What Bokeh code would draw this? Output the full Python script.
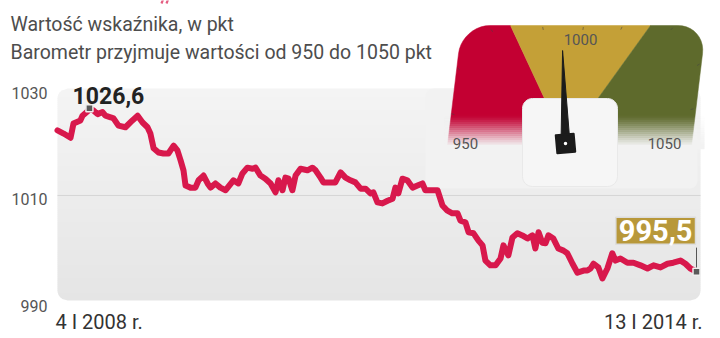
import numpy as np
import pandas as pd
from bokeh.plotting import figure
from bokeh.models import Range1d, Label, ColumnDataSource
from bokeh.core.properties import value
from bokeh.embed import file_html
from bokeh.resources import INLINE

# ---------------- data ----------------
dates = [
    "2008-01-04", "2008-01-25", "2008-02-18", "2008-02-28", "2008-03-23", "2008-03-30",
    "2008-04-16", "2008-04-23", "2008-05-07", "2008-05-21", "2008-06-07", "2008-06-17",
    "2008-07-05", "2008-07-15", "2008-08-01", "2008-08-25", "2008-09-18", "2008-10-06",
    "2008-10-23", "2008-11-09", "2008-11-19", "2008-11-30", "2008-12-17", "2009-01-03",
    "2009-01-20", "2009-02-07", "2009-02-20", "2009-03-03", "2009-03-13", "2009-03-20",
    "2009-04-06", "2009-04-23", "2009-05-04", "2009-05-21", "2009-06-04", "2009-06-14",
    "2009-07-01", "2009-07-18", "2009-08-05", "2009-08-12", "2009-09-01", "2009-09-18",
    "2009-10-02", "2009-10-19", "2009-11-06", "2009-11-16", "2009-12-03", "2009-12-20",
    "2010-01-07", "2010-01-24", "2010-02-03", "2010-02-17", "2010-02-27", "2010-03-10",
    "2010-03-23", "2010-04-03", "2010-04-20", "2010-05-14", "2010-05-31", "2010-06-11",
    "2010-06-28", "2010-07-08", "2010-08-01", "2010-08-18", "2010-09-05", "2010-09-22",
    "2010-10-09", "2010-10-26", "2010-11-13", "2010-11-30", "2010-12-17", "2010-12-27",
    "2011-01-10", "2011-01-27", "2011-02-14", "2011-03-03", "2011-03-13", "2011-03-23",
    "2011-04-06", "2011-04-23", "2011-05-11", "2011-05-28", "2011-06-14", "2011-06-24",
    "2011-07-12", "2011-08-05", "2011-08-22", "2011-09-08", "2011-09-25", "2011-10-13",
    "2011-10-23", "2011-11-09", "2011-11-20", "2011-12-07", "2011-12-24", "2012-01-07",
    "2012-01-17", "2012-02-03", "2012-02-21", "2012-03-09", "2012-03-19", "2012-04-05",
    "2012-04-19", "2012-05-06", "2012-05-23", "2012-06-10", "2012-06-27", "2012-07-07",
    "2012-07-18", "2012-07-31", "2012-08-11", "2012-08-21", "2012-09-07", "2012-09-24",
    "2012-10-12", "2012-10-25", "2012-11-12", "2012-11-29", "2012-12-20", "2013-01-02",
    "2013-01-13", "2013-01-23", "2013-02-09", "2013-02-23", "2013-03-12", "2013-03-29",
    "2013-04-09", "2013-04-26", "2013-05-20", "2013-06-10", "2013-07-04", "2013-07-28",
    "2013-08-18", "2013-09-11", "2013-10-05", "2013-10-25", "2013-11-19", "2013-12-06",
    "2013-12-23", "2014-01-13",
]
values = [
    1022.4, 1021.8, 1021.0, 1023.7, 1024.3, 1025.2,
    1026.0, 1026.6, 1026.2, 1025.5, 1025.9, 1025.2,
    1024.9, 1024.7, 1023.3, 1023.0, 1024.3, 1025.2,
    1023.9, 1023.0, 1021.8, 1019.0, 1018.2, 1018.0,
    1018.0, 1019.5, 1018.6, 1016.7, 1014.8, 1011.9,
    1011.5, 1011.5, 1012.9, 1013.8, 1012.3, 1011.5,
    1012.3, 1011.5, 1011.0, 1011.5, 1012.9, 1012.3,
    1014.2, 1015.3, 1015.1, 1015.3, 1013.8, 1013.2,
    1012.3, 1010.6, 1012.9, 1011.0, 1013.4, 1013.2,
    1011.0, 1013.8, 1015.1, 1014.8, 1015.3, 1014.8,
    1013.4, 1012.5, 1012.5, 1012.5, 1014.4, 1013.4,
    1012.9, 1012.5, 1011.3, 1011.3, 1010.4, 1010.6,
    1008.7, 1008.5, 1009.0, 1009.4, 1011.5, 1010.4,
    1013.2, 1012.9, 1011.5, 1011.9, 1012.3, 1011.0,
    1011.0, 1011.0, 1008.1, 1007.1, 1006.6, 1006.6,
    1005.2, 1004.9, 1003.0, 1002.8, 1001.4, 1000.5,
    997.6, 996.7, 996.7, 998.0, 1000.5, 998.6,
    1002.0, 1002.8, 1002.4, 1001.8, 1002.4, 999.9,
    1003.0, 1001.0, 1000.9, 1002.4, 1001.8, 999.9,
    999.5, 999.0, 997.0, 995.3, 995.7, 995.7,
    996.1, 997.0, 996.3, 994.2, 996.1, 999.0,
    997.6, 998.0, 997.2, 997.2, 996.7, 996.1,
    996.7, 996.3, 997.0, 997.2, 997.6, 997.0,
    996.1, 995.5,
]
y_ticks = [990, 1010, 1030]
x_labels = ["4 I 2008 r.", "13 I 2014 r."]
subtitle_lines = ["Wartość wskaźnika, w pkt",
                  "Barometr przyjmuje wartości od 950 do 1050 pkt"]
gauge_labels = ["950", "1000", "1050"]
gauge_min, gauge_mid, gauge_max = 950, 1000, 1050

# ---------------- style ----------------
FONT = "Roboto"
RED = "#d8184c"
GAUGE_RED = "#c30032"
GAUGE_GOLD = "#c4a037"
GAUGE_OLIVE = "#5e6a2c"
BOX_GOLD = "#b8983a"
PANEL = "#f2f2f2"
W, H = 720, 338

t = pd.to_datetime(dates)
ms = t.values.astype("datetime64[ms]").astype(np.int64).astype(float)
vals = np.array(values)

# frame geometry in pixels
X0_PX, X1_PX = 57, 696
YT_PX, YB_PX = 90, 300          # positions of 1030 and 990
mpp = (ms[-1] - ms[0]) / (X1_PX - X0_PX)
upp = (y_ticks[-1] - y_ticks[0]) / (YB_PX - YT_PX)

p = figure(width=W, height=H,
           x_range=Range1d(ms[0] - X0_PX * mpp, ms[0] + (W - X0_PX) * mpp),
           y_range=Range1d(y_ticks[0] - (H - YB_PX) * upp, y_ticks[-1] + YT_PX * upp),
           x_axis_type=None, y_axis_type=None, toolbar_location=None,
           output_backend="svg", min_border=0)
p.outline_line_color = None
p.background_fill_color = "white"
p.border_fill_color = "white"
p.extra_x_ranges = {"px": Range1d(0, W)}
p.extra_y_ranges = {"px": Range1d(0, H)}


def Y(y):
    return H - np.asarray(y, dtype=float)


def rrect(x0, x1, y0, y1, r, n=8):
    pts = []
    for cx, cy, a0 in [(x0 + r, y0 + r, 180), (x1 - r, y0 + r, 270),
                       (x1 - r, y1 - r, 0), (x0 + r, y1 - r, 90)]:
        for k in range(n + 1):
            a = np.radians(a0 + 90 * k / n)
            pts.append((cx + r * np.cos(a), cy + r * np.sin(a)))
    xs = [q[0] for q in pts]
    ys = list(Y([q[1] for q in pts]))
    return xs, ys


def pxpatch(xs, ys_down, **kw):
    p.patch(list(xs), list(Y(ys_down)), x_range_name="px", y_range_name="px", **kw)


# ---------------- gray plot area with vertical gradient ----------------
GX0, GX1, GY0, GY1, GR = 57, 700, 88, 300, 10


def inset(y):
    d = 0.0
    if y < GY0 + GR:
        d = GY0 + GR - y
    elif y > GY1 - GR:
        d = y - (GY1 - GR)
    d = min(max(d, 0.0), GR)
    return GR - np.sqrt(GR * GR - d * d)


edges = np.arange(GY0, GY1 + 0.01, 2.0)
bxs, bys, bcols = [], [], []
for ya, yb in zip(edges[:-1], edges[1:]):
    yb2 = min(yb + 0.8, GY1)
    ia, ib = inset(ya), inset(yb2)
    bxs.append([GX0 + ia, GX1 - ia, GX1 - ib, GX0 + ib])
    bys.append(list(Y([ya, ya, yb2, yb2])))
    frac = ((ya + yb) / 2 - GY0) / (GY1 - GY0)
    g = int(round(244 - 15 * frac))
    bcols.append("#%02x%02x%02x" % (g, g, g))
p.patches(bxs, bys, fill_color=bcols, line_color=None,
          x_range_name="px", y_range_name="px")

# grid line at the middle tick
p.segment(x0=[GX0] * (len(y_ticks) - 2), x1=[GX1] * (len(y_ticks) - 2),
          y0=y_ticks[1:-1], y1=y_ticks[1:-1], x_range_name="px",
          line_color="#d6d6d6", line_width=1)

# tail of the (cut-off) title's red quotation mark
p.segment(x0=[162.5, 167.5], y0=list(Y([-1, -1])), x1=[161, 166], y1=list(Y([3, 3])),
          x_range_name="px", y_range_name="px", line_color=RED, line_width=2.2,
          line_alpha=0.7)

# ---------------- gauge ----------------
xs, ys = rrect(425, 697, 88, 188, 8)
p.patch(xs, ys, fill_color=PANEL, line_color=None, x_range_name="px", y_range_name="px")

PIV = (565.0, 143.0)
SH = 0.12
U0, GTOP, GW, GH, GRAD = 461.4, 25.0, 244.0, 120.0, 28.0


def gpt(u, v):
    return (U0 + u - SH * v, GTOP + v)


def arc(cu, cv, a0, a1, n=10):
    out = []
    for k in range(n + 1):
        a = np.radians(a0 + (a1 - a0) * k / n)
        out.append(gpt(cu + GRAD * np.cos(a), cv + GRAD * np.sin(a)))
    return out


b1 = 510.0   # red/gold boundary on top edge
b2 = 650.0   # gold/olive boundary on top edge
red_pts = [(PIV[0], GTOP + GH), gpt(0, GH)] + arc(GRAD, GRAD, 180, 270) + [(b1, GTOP), PIV]
gold_pts = [PIV, (b1, GTOP), (b2, GTOP)]
olive_pts = [(b2, GTOP)] + arc(GW - GRAD, GRAD, 270, 360) + [gpt(GW, GH), (PIV[0], GTOP + GH), PIV]
for pts, col in [(red_pts, GAUGE_RED), (gold_pts, GAUGE_GOLD), (olive_pts, GAUGE_OLIVE)]:
    pxpatch([q[0] for q in pts], [q[1] for q in pts], fill_color=col, line_color=col, line_width=0.5)

# small scale ticks on the dial rim, pointing to the pivot
rim = [(490, 28), (542, 25.5), (583, 25.5), (622, 25.5), (673, 26.5),
       (456, 67), (450, 113), (700, 63), (694, 108)]
tx0, ty0, tx1, ty1 = [], [], [], []
for ex, ey in rim:
    dx, dy = PIV[0] - ex, PIV[1] - ey
    n = np.hypot(dx, dy)
    dx, dy = dx / n, dy / n
    tx0.append(ex + 1 * dx); ty0.append(ey + 1 * dy)
    tx1.append(ex + 4 * dx); ty1.append(ey + 4 * dy)
p.segment(x0=tx0, y0=list(Y(ty0)), x1=tx1, y1=list(Y(ty1)), x_range_name="px",
          y_range_name="px", line_color="#444444", line_alpha=0.55, line_width=1)

# fade of the dial bottom into the panel
fx, fy, fa = [], [], []
for y in np.arange(114, 147, 2.0):
    fx.append([444, 704, 704, 444])
    fy.append(list(Y([y, y, y + 2.8, y + 2.8])))
    fa.append(min(1.0, ((y + 1 - 114) / 31.0) ** 1.4))
p.patches(fx, fy, fill_color=PANEL, fill_alpha=fa, line_color=None,
          x_range_name="px", y_range_name="px")

# centre plate
xs, ys = rrect(522, 617, 98, 186, 10)
p.patch(xs, ys, fill_color="#f6f6f6", line_color="#e9e9e9", line_width=1,
        x_range_name="px", y_range_name="px")

# dial labels
p.text(x=[465, 580, 664], y=list(Y([143, 39, 143])), text=gauge_labels,
       x_range_name="px", y_range_name="px", text_font=value(FONT),
       text_font_size="15px", text_color="#555555", text_align="center",
       text_baseline="middle")

# needle, angle derived from the last value
ang = np.radians((vals[-1] - gauge_mid) / (gauge_max - gauge_mid) * 20.0)
L, hw = 93.0, 4.5
tip = (PIV[0] + L * np.sin(ang), PIV[1] - L * np.cos(ang))
bl = (PIV[0] - hw * np.cos(ang), PIV[1] - hw * np.sin(ang))
br = (PIV[0] + hw * np.cos(ang), PIV[1] + hw * np.sin(ang))
pxpatch([bl[0], tip[0], br[0]], [bl[1], tip[1], br[1]], fill_color="#1b1b1b", line_color="#1b1b1b")
hr = np.radians(-5)
hub = []
for dx, dy in [(-9, -9), (9, -9), (9, 9), (-9, 9)]:
    hub.append((PIV[0] + dx * np.cos(hr) - dy * np.sin(hr), PIV[1] + dx * np.sin(hr) + dy * np.cos(hr)))
pxpatch([q[0] for q in hub], [q[1] for q in hub], fill_color="#1b1b1b", line_color="#1b1b1b",
        line_width=2, line_join="round")
p.scatter(x=[PIV[0]], y=list(Y([PIV[1]])), size=3.5, fill_color="white", line_color=None,
          x_range_name="px", y_range_name="px")

# ---------------- main line ----------------
p.line(ms, vals, line_color=RED, line_width=6, line_join="round", line_cap="round")

imax = int(np.argmax(vals))
p.ray(x=[ms[-1]], y=[vals[-1]], length=24, length_units="screen", angle=90,
      angle_units="deg", line_color="#555555", line_width=1)
p.scatter(x=[ms[imax], ms[-1]], y=[vals[imax], vals[-1]], marker="square", size=7,
          fill_color="#5a5a5a", line_color="#eeeeee", line_width=1.5)


def fmt(v):
    return f"{v:.1f}".replace(".", ",")


p.add_layout(Label(x=ms[imax], y=vals[imax], text=fmt(vals[imax]), x_offset=19, y_offset=13,
                   text_align="center", text_baseline="middle", text_font=FONT,
                   text_font_style="bold", text_font_size="23px", text_color="#222222"))
p.add_layout(Label(x=ms[-1], y=vals[-1], text=fmt(vals[-1]), x_offset=-1, y_offset=41,
                   text_align="right", text_baseline="middle", text_font=FONT,
                   text_font_style="bold", text_font_size="29px", text_color="white",
                   background_fill_color=BOX_GOLD, border_line_color="#dddddd",
                   border_line_width=1.5, padding=3))

# ---------------- texts ----------------
p.text(x=[10, 10], y=list(Y([23.5, 51.5])), text=subtitle_lines, x_range_name="px",
       y_range_name="px", text_font=value(FONT), text_font_size="19.5px",
       text_color="#4d4d4d", text_baseline="middle")

tick_src = ColumnDataSource(dict(x=[47] * len(y_ticks), y=y_ticks,
                                 text=[str(v) for v in y_ticks], dy=[5.0, 3.5, 2.5]))
p.text(x="x", y="y", text="text", y_offset="dy", source=tick_src, x_range_name="px",
       text_font=value(FONT), text_font_size="16px", text_color="#555555",
       text_align="right", text_baseline="middle")

p.text(x=[ms[0]], y=list(Y([321.5])), text=[x_labels[0]], y_range_name="px",
       text_font=value(FONT), text_font_size="20px", text_color="#333333",
       text_align="left", text_baseline="middle", x_offset=-2)
p.text(x=[ms[-1]], y=list(Y([321.5])), text=[x_labels[1]], y_range_name="px",
       text_font=value(FONT), text_font_size="20px", text_color="#333333",
       text_align="right", text_baseline="middle", x_offset=6)

open("out.html", "w").write(file_html(p, INLINE))
